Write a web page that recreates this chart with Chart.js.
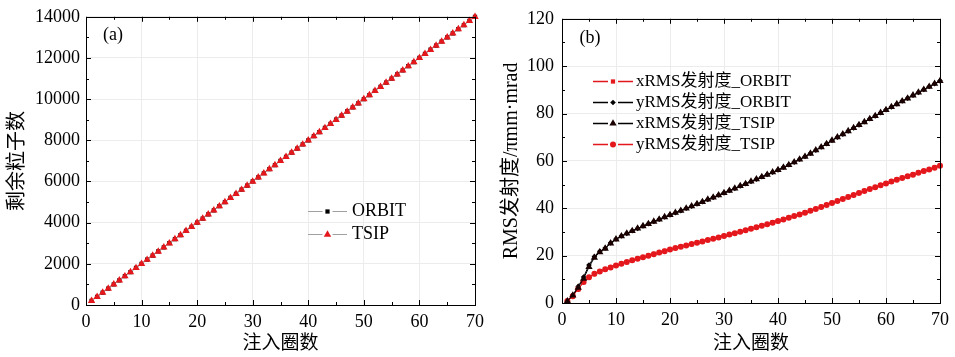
<!DOCTYPE html>
<html>
<head>
<meta charset="utf-8">
<script src="https://cdn.jsdelivr.net/npm/chart.js@4/dist/chart.umd.min.js"></script>
<style>
  body { margin: 0; background: #fff; width: 955px; height: 357px; position: relative; overflow: hidden; }
  canvas { position: absolute; top: 0; }
  #chartA { left: 0; }
  #chartB { left: 480px; }
</style>
</head>
<body>
<canvas id="chartA" width="490" height="357"></canvas>
<canvas id="chartB" width="475" height="357"></canvas>
<script>
// injection turns (x for both panels)
const turns = [1,2,3,4,5,6,7,8,9,10,11,12,13,14,15,16,17,18,19,20,
  21,22,23,24,25,26,27,28,29,30,31,32,33,34,35,36,37,38,39,40,
  41,42,43,44,45,46,47,48,49,50,51,52,53,54,55,56,57,58,59,60,
  61,62,63,64,65,66,67,68,69,70];

// (a) remaining particles
const particlesOrbit = [200,400,600,800,1000,1200,1400,1600,1800,2000,
  2200,2400,2600,2800,3000,3200,3400,3600,3800,4000,
  4200,4400,4600,4800,5000,5200,5400,5600,5800,6000,
  6200,6400,6600,6800,7000,7200,7400,7600,7800,8000,
  8200,8400,8600,8800,9000,9200,9400,9600,9800,10000,
  10200,10400,10600,10800,11000,11200,11400,11600,11800,12000,
  12200,12400,12600,12800,13000,13200,13400,13600,13800,14000];
const particlesTsip = [200,400,600,800,1000,1200,1400,1600,1800,2000,
  2200,2400,2600,2800,3000,3200,3400,3600,3800,4000,
  4200,4400,4600,4800,5000,5200,5400,5600,5800,6000,
  6200,6400,6600,6800,7000,7200,7400,7600,7800,8000,
  8200,8400,8600,8800,9000,9200,9400,9600,9800,10000,
  10200,10400,10600,10800,11000,11200,11400,11600,11800,12000,
  12200,12400,12600,12800,13000,13200,13400,13600,13800,14000];

// (b) RMS emittance, pi mm mrad
const xRmsOrbit = [0.8,3.0,5.8,8.8,10.8,12.2,13.3,14.2,15.0,15.8,
  16.6,17.3,18.0,18.7,19.4,20.0,20.7,21.3,22.0,22.6,
  23.2,23.8,24.4,24.9,25.5,26.0,26.6,27.2,27.7,28.3,
  28.9,29.5,30.1,30.8,31.4,32.0,32.7,33.3,34.0,34.6,
  35.3,36.0,36.7,37.4,38.2,38.9,39.7,40.6,41.4,42.3,
  43.1,44.0,44.8,45.6,46.5,47.3,48.1,48.9,49.8,50.6,
  51.3,52.1,52.8,53.5,54.3,55.0,55.7,56.4,57.2,57.9];
const yRmsOrbit = [0.8,3.4,7.0,11.0,16.0,19.6,21.8,23.2,25.4,27.0,
  28.3,29.4,30.5,31.5,32.5,33.5,34.4,35.4,36.3,37.2,
  38.1,39.0,40.0,40.9,41.8,42.8,43.7,44.6,45.6,46.5,
  47.5,48.4,49.4,50.4,51.3,52.3,53.3,54.3,55.2,56.2,
  57.3,58.4,59.5,60.7,61.9,63.2,64.5,65.9,67.3,68.7,
  70.0,71.3,72.6,73.9,75.2,76.5,77.8,79.0,80.3,81.6,
  82.8,84.0,85.3,86.5,87.7,88.9,90.2,91.4,92.6,93.8];
const xRmsTsip = [0.8,3.2,6.5,10.3,15.2,19.1,21.5,23.0,25.2,26.9,
  28.2,29.4,30.4,31.5,32.5,33.4,34.4,35.3,36.3,37.2,
  38.1,39.0,39.9,40.9,41.8,42.7,43.7,44.6,45.5,46.5,
  47.4,48.4,49.4,50.3,51.3,52.3,53.2,54.2,55.2,56.2,
  57.2,58.3,59.5,60.6,61.8,63.1,64.5,65.8,67.2,68.6,
  70.0,71.3,72.6,73.9,75.2,76.4,77.7,79.0,80.3,81.5,
  82.8,84.0,85.2,86.4,87.7,88.9,90.1,91.3,92.6,93.8];
const yRmsTsip = [0.8,2.9,5.9,8.9,10.9,12.3,13.3,14.2,15.0,15.8,
  16.6,17.3,18.0,18.7,19.3,20.0,20.6,21.3,21.9,22.6,
  23.2,23.8,24.3,24.9,25.4,26.0,26.6,27.1,27.7,28.3,
  28.9,29.5,30.1,30.7,31.4,32.0,32.6,33.3,33.9,34.6,
  35.3,36.0,36.7,37.4,38.1,38.9,39.7,40.5,41.4,42.2,
  43.1,43.9,44.8,45.6,46.4,47.3,48.1,48.9,49.7,50.5,
  51.3,52.0,52.8,53.5,54.2,55.0,55.7,56.4,57.1,57.9];

const RED = 'rgb(228,24,28)';
const SERIF = '"Liberation Serif", "Noto Sans CJK SC", serif';

function pts(ys) {
  return turns.map((t, i) => ({ x: t, y: ys[i] }));
}

function marker(ctx, style, r, x, y) {
  ctx.beginPath();
  if (style === 'rect') {
    const s = r * Math.SQRT1_2;
    ctx.rect(x - s, y - s, 2 * s, 2 * s);
  } else if (style === 'triangle') {
    ctx.moveTo(x, y - r);
    ctx.lineTo(x + r * 0.87, y + r * 0.5);
    ctx.lineTo(x - r * 0.87, y + r * 0.5);
    ctx.closePath();
  } else if (style === 'rectRot') {
    ctx.moveTo(x, y - r); ctx.lineTo(x + r, y); ctx.lineTo(x, y + r); ctx.lineTo(x - r, y);
    ctx.closePath();
  } else {
    ctx.arc(x, y, r, 0, Math.PI * 2);
  }
  ctx.fill();
}

// box around the plot, inward major/minor ticks on all four sides
const framePlugin = {
  id: 'frame',
  afterDraw(chart, args, opts) {
    const { ctx, chartArea: a } = chart;
    const xs = chart.scales.x, ys = chart.scales.y;
    ctx.save();
    ctx.strokeStyle = '#000';
    ctx.lineWidth = 1;
    ctx.strokeRect(Math.round(a.left) + 0.5, Math.round(a.top) + 0.5,
      Math.round(a.right - a.left), Math.round(a.bottom - a.top));
    ctx.beginPath();
    for (let v = xs.min; v <= xs.max; v += opts.xMinor) {
      const len = Math.abs(v % opts.xMajor) < 1e-9 ? 5 : 3;
      const px = Math.round(xs.getPixelForValue(v)) + 0.5;
      ctx.moveTo(px, a.bottom); ctx.lineTo(px, a.bottom - len);
      ctx.moveTo(px, a.top); ctx.lineTo(px, a.top + len);
    }
    for (let v = ys.min; v <= ys.max; v += opts.yMinor) {
      const len = Math.abs(v % opts.yMajor) < 1e-9 ? 5 : 3;
      const py = Math.round(ys.getPixelForValue(v)) + 0.5;
      ctx.moveTo(a.left, py); ctx.lineTo(a.left + len, py);
      ctx.moveTo(a.right, py); ctx.lineTo(a.right - len, py);
    }
    ctx.stroke();
    ctx.restore();
  }
};

// legend inside the plot + panel tag
const innerLegend = {
  id: 'innerLegend',
  afterDraw(chart, args, o) {
    const ctx = chart.ctx;
    ctx.save();
    ctx.fillStyle = '#000';
    ctx.font = o.tagFont;
    ctx.textAlign = 'center';
    ctx.textBaseline = 'middle';
    ctx.fillText(o.tag, o.tagX, o.tagY);
    ctx.font = o.font;
    ctx.textAlign = 'left';
    chart.data.datasets.forEach((ds, i) => {
      const y = Math.round(o.y + i * o.rowH) + 0.5;
      const mx = (o.x0 + o.x1) / 2;
      ctx.strokeStyle = o.lineColor || ds.borderColor;
      ctx.lineWidth = o.lineWidth || 1;
      ctx.beginPath();
      ctx.moveTo(o.x0, y); ctx.lineTo(mx - 5, y);
      ctx.moveTo(mx + 5, y); ctx.lineTo(o.x1, y);
      ctx.stroke();
      ctx.fillStyle = ds.pointBackgroundColor;
      marker(ctx, ds.pointStyle, ds.pointRadius, mx, y);
      ctx.fillStyle = '#000';
      ctx.fillText(ds.label, o.tx, y);
    });
    ctx.restore();
  }
};

function axes(xTitle, yTitle, yMax, yStep, xH, yW, yTitlePad, yTickPad) {
  return {
    x: {
      type: 'linear', min: 0, max: 70,
      ticks: { stepSize: 10, color: '#000', padding: 6, font: { family: SERIF, size: 18 }, callback: v => String(v) },
      grid: { color: '#ececec', drawTicks: false },
      border: { display: false },
      title: { display: true, text: xTitle, color: '#000', padding: { top: 0, bottom: 2 }, font: { family: SERIF, size: 19 } },
      afterFit: s => { s.height = xH; }
    },
    y: {
      type: 'linear', min: 0, max: yMax,
      ticks: { stepSize: yStep, color: '#000', padding: yTickPad, font: { family: SERIF, size: 18 }, callback: v => String(v) },
      grid: { color: '#ececec', drawTicks: false },
      border: { display: false },
      title: { display: true, text: yTitle, color: '#000', padding: { top: yTitlePad, bottom: 0 }, font: { family: SERIF, size: 20 } },
      afterFit: s => { s.width = yW; }
    }
  };
}

new Chart(document.getElementById('chartA'), {
  type: 'line',
  data: {
    datasets: [
      { label: 'ORBIT', data: pts(particlesOrbit), borderColor: '#b0b0b0', borderWidth: 1, order: 2,
        pointStyle: 'rect', pointRadius: 3, pointBackgroundColor: '#000', pointBorderWidth: 0, clip: 8 },
      { label: 'TSIP', data: pts(particlesTsip), borderColor: '#b0b0b0', borderWidth: 1, order: 1,
        pointStyle: 'triangle', pointRadius: 4.3, pointBackgroundColor: RED, pointBorderWidth: 0, clip: 8 }
    ]
  },
  options: {
    responsive: false, animation: false, devicePixelRatio: 1,
    layout: { padding: { top: 16, right: 15, left: 0, bottom: 0 } },
    scales: axes('注入圈数', '剩余粒子数', 14000, 2000, 52, 86, 6, 6),
    plugins: {
      legend: { display: false }, tooltip: { enabled: false },
      frame: { xMajor: 10, xMinor: 5, yMajor: 2000, yMinor: 1000 },
      innerLegend: { tag: '(a)', tagX: 113, tagY: 35, tagFont: '18px ' + SERIF,
        font: '18px ' + SERIF, x0: 308, x1: 347, tx: 352, y: 211, rowH: 23, lineColor: '#a0a0a0' }
    }
  },
  plugins: [framePlugin, innerLegend]
});

new Chart(document.getElementById('chartB'), {
  type: 'line',
  data: {
    datasets: [
      { label: 'xRMS发射度_ORBIT', data: pts(xRmsOrbit), borderColor: RED, borderWidth: 1, order: 4,
        pointStyle: 'rect', pointRadius: 3, pointBackgroundColor: RED, pointBorderWidth: 0, clip: 8 },
      { label: 'yRMS发射度_ORBIT', data: pts(yRmsOrbit), borderColor: '#000', borderWidth: 1, order: 3,
        pointStyle: 'rectRot', pointRadius: 2.8, pointBackgroundColor: '#000', pointBorderWidth: 0, clip: 8 },
      { label: 'xRMS发射度_TSIP', data: pts(xRmsTsip), borderColor: '#000', borderWidth: 1, order: 1,
        pointStyle: 'triangle', pointRadius: 4.2, pointBackgroundColor: '#1a0000', pointBorderWidth: 0, clip: 8 },
      { label: 'yRMS发射度_TSIP', data: pts(yRmsTsip), borderColor: RED, borderWidth: 1, order: 2,
        pointStyle: 'circle', pointRadius: 3, pointBackgroundColor: RED, pointBorderWidth: 0, clip: 8 }
    ]
  },
  options: {
    responsive: false, animation: false, devicePixelRatio: 1,
    layout: { padding: { top: 16, right: 10, left: 0, bottom: 0 } },
    scales: axes('注入圈数', 'RMS发射度/πmm·mrad', 120, 20, 54, 82, 20, 8),
    plugins: {
      legend: { display: false }, tooltip: { enabled: false },
      frame: { xMajor: 10, xMinor: 5, yMajor: 20, yMinor: 10 },
      innerLegend: { tag: '(b)', tagX: 110, tagY: 38, tagFont: '18px ' + SERIF,
        font: '17px ' + SERIF, x0: 113, x1: 153, tx: 156, y: 81, rowH: 21, lineWidth: 1.5 }
    }
  },
  plugins: [framePlugin, innerLegend]
});
</script>
</body>
</html>
